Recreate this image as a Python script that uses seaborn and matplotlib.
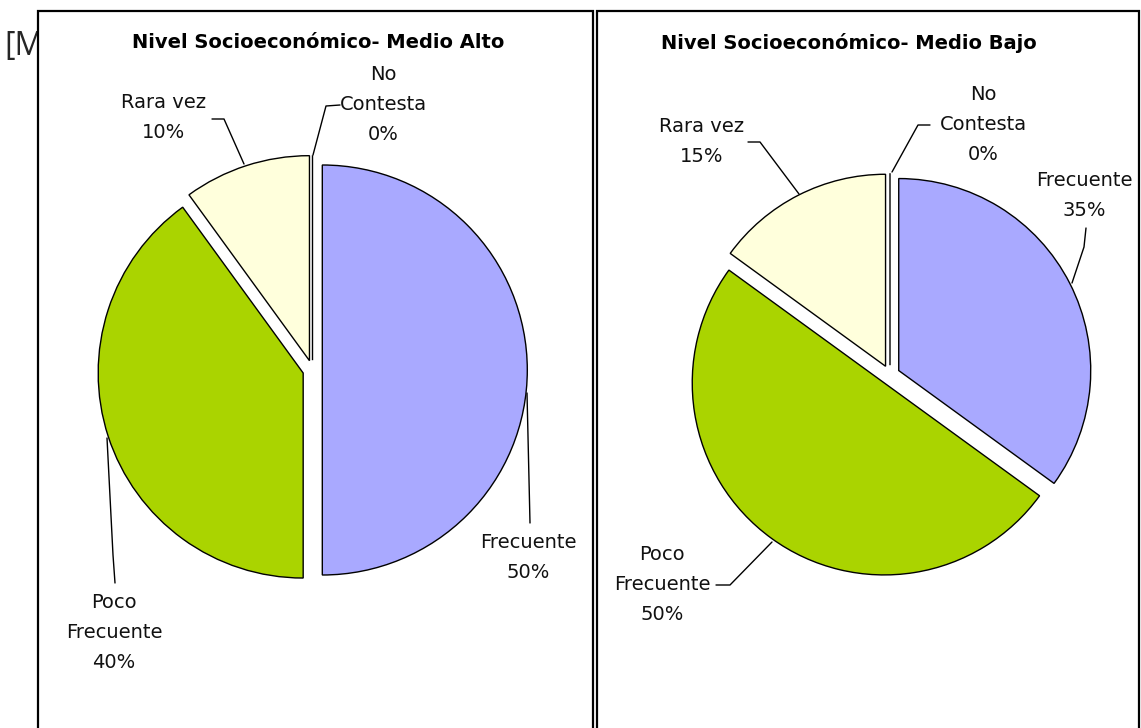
import matplotlib
matplotlib.use("Agg")
import matplotlib.pyplot as plt
from matplotlib.patches import Rectangle
import seaborn as sns

# ---------------- data ----------------
categories = ["Frecuente", "Poco Frecuente", "Rara vez", "No Contesta"]
label_lines = [["Frecuente"], ["Poco", "Frecuente"], ["Rara vez"], ["No", "Contesta"]]
medio_alto = [50, 40, 10, 0]
medio_bajo = [35, 50, 15, 0]
titles = ["Nivel Socioeconómico- Medio Alto", "Nivel Socioeconómico- Medio Bajo"]
colors = ["#A9A9FF", "#AAD400", "#FFFFDC", "#FFFFFF"]

# ---------------- style ----------------
sns.set_theme(style="white")
plt.rcParams["font.family"] = ["DejaVu Sans"]

W, H = 1141, 728
fig = plt.figure(figsize=(W / 100, H / 100), dpi=100)
fig.patch.set_facecolor("white")

# partial text hidden behind the boxes
fig.text(4 / W, 1 - 46 / H, "[M", fontsize=23, family="Open Sans",
         va="center", ha="left", zorder=-5)

ax = fig.add_axes([0, 0, 1, 1])
ax.set_facecolor("none")

# layout (pixel coordinates, y downward)
layout = [
    dict(values=medio_alto, title_x=132, center=(312.5, 370), radius=205,
         box=(38, 593),
         labels=[(528.5, 543), (114, 603), (164, 103), (383, 74)],
         leaders=[[(527, 393), (530, 523)],
                  [(107, 438), (113, 555), (115, 583)],
                  [(244, 164), (224, 119), (212, 119)],
                  [(313, 155), (326, 106), (340, 105)]]),
    dict(values=medio_bajo, title_x=661, center=(890, 375), radius=192,
         box=(597, 1139),
         labels=[(1084, 181), (662, 555), (702, 127), (983, 95)],
         leaders=[[(1072, 283), (1084, 247), (1086, 228)],
                  [(772, 542), (730, 585), (716, 585)],
                  [(799, 194), (760, 142), (748, 142)],
                  [(892, 172), (918, 125), (930, 125)]]),
]

explode_px = 9.8
line_gap = 30

for k, spec in enumerate(layout):
    x0, x1 = spec["box"]
    ax.add_patch(Rectangle((x0, 11), x1 - x0, H + 20, facecolor="white",
                           edgecolor="black", linewidth=1.6, zorder=0))
    ax.text(spec["title_x"], 43, titles[k], fontsize=14,
            fontweight="bold", ha="left", va="center", color="black", zorder=5)

    r = spec["radius"]
    ax.pie(spec["values"], colors=colors, startangle=-90, counterclock=True,
           center=spec["center"], radius=r,
           explode=[explode_px] * len(spec["values"]),
           frame=True,
           wedgeprops=dict(edgecolor="black", linewidth=1.0, zorder=2))

    for lines, val, (lx, ly), pts in zip(label_lines, spec["values"],
                                          spec["labels"], spec["leaders"]):
        all_lines = lines + [f"{val}%"]
        for i, t in enumerate(all_lines):
            ax.text(lx, ly + i * line_gap, t, fontsize=14, ha="center",
                    va="center", color="#111111", zorder=5)
        xs = [p[0] for p in pts]
        ys = [p[1] for p in pts]
        ax.plot(xs, ys, color="black", linewidth=1.0, zorder=4)

ax.set_xlim(0, W)
ax.set_ylim(H, 0)
ax.set_aspect("auto")
ax.axis("off")

fig.savefig("out.png", dpi=100, facecolor="white")
